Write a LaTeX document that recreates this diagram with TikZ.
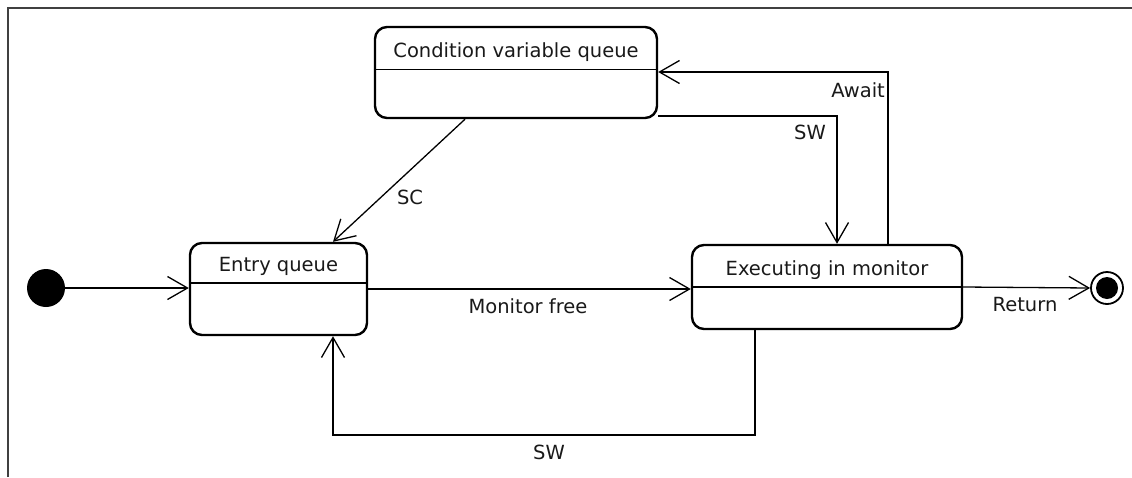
\documentclass[tikz,border=0pt]{standalone}
\usepackage{fontspec}
\setmainfont{DejaVu Sans}
\usetikzlibrary{arrows.meta,calc}
\tikzset{
  statebox/.style={draw, line width=2.4pt, rounded corners=12pt, inner sep=0pt},
  divider/.style={line width=1.3pt},
  title/.style={font=\fontsize{19.5}{21}\selectfont, text=black!90, inner sep=0pt},
  lbl/.style={font=\fontsize{19.5}{21}\selectfont, text=black!90, inner sep=0pt},
  arr/.style={line width=1.3pt, -{Straight Barb[length=20pt,width=23pt,line width=1.3pt]}},
  frame/.style={line width=1.6pt, draw=black!75},
}
\begin{document}
\begin{tikzpicture}[x=1pt,y=-1pt]
  \useasboundingbox (0,0) rectangle (1132,477);
  % outer frame (top and left edges)
  \coordinate (ftl) at (8,8);
  \draw[frame] (8,477) -- (ftl) -- (1132,8);

  % states
  \node[statebox, minimum width=282pt, minimum height=91pt] (cvq) at (516,72.5) {};
  \node[title] (cvqt) at (516,52) {Condition variable queue};
  \draw[divider] ($(cvq.north west)!0.47!(cvq.south west)$) -- ($(cvq.north east)!0.47!(cvq.south east)$);

  \node[statebox, minimum width=177pt, minimum height=92pt] (entry) at (278.5,289) {};
  \node[title] (entryt) at (278.5,266) {Entry queue};
  \draw[divider] ($(entry.north west)!0.435!(entry.south west)$) -- ($(entry.north east)!0.435!(entry.south east)$);

  \node[statebox, minimum width=270pt, minimum height=84pt] (exec) at (827,287) {};
  \node[title] (exect) at (827,270) {Executing in monitor};
  \draw[divider] ($(exec.north west)!0.5!(exec.south west)$) -- ($(exec.north east)!0.5!(exec.south east)$);

  % pseudo-states
  \node[circle, fill=black, minimum size=38pt, inner sep=0pt] (init) at (46,288) {};
  \node[circle, draw, line width=1.8pt, fill=white, minimum size=32pt, inner sep=0pt] (final) at (1107,288) {};
  \node[circle, fill=black, minimum size=22pt, inner sep=0pt] (finaldot) at (final) {};

  % bend points
  \coordinate (swtop) at (837,116);
  \coordinate (await) at (888,72);
  \coordinate (swb1) at (755,435);
  \coordinate (swb2) at (333,435);

  % transitions
  \draw[arr] (init) -- (init -| entry.west);
  \draw[arr] (entry.east) -- (entry.east -| exec.west);
  \draw[arr] (exec.east) -- (final.west);
  \draw[arr] ([xshift=-51pt]cvq.south) -- ([xshift=54.5pt]entry.north);
  \draw[arr] (cvq.east |- swtop) -| (exec.north -| swtop);
  \draw[arr] (exec.north -| await) |- (cvq.east |- await);
  \draw[arr] (exec.south -| swb1) -- (swb1) -- (swb2) -- (entry.south -| swb2);

  % labels
  \node[lbl] (lmf) at (528,306) {Monitor free};
  \node[lbl] (lret) at (1025,305) {Return};
  \node[lbl] (lswb) at (549,452) {SW};
  \node[lbl] (lsc) at (410,197) {SC};
  \node[lbl] (lswt) at (810,132) {SW};
  \node[lbl, anchor=east] (law) at (885,90) {Await};
\end{tikzpicture}
\end{document}
